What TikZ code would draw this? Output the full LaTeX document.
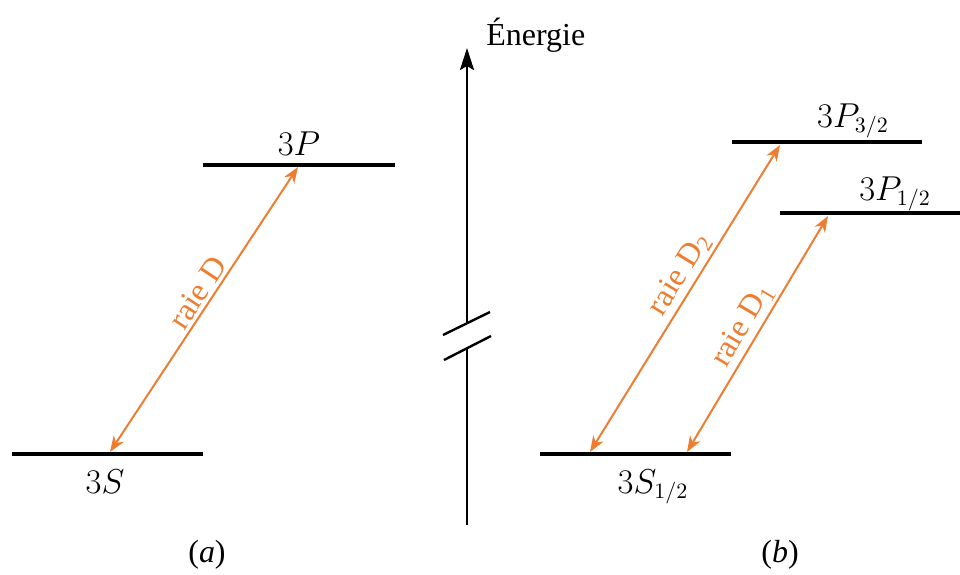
\documentclass[tikz,border=0pt]{standalone}
\usepackage{fontspec}
\setmainfont{Liberation Serif}
\usetikzlibrary{arrows.meta}
\definecolor{raie}{RGB}{237,125,49}
\begin{document}
\begin{tikzpicture}[x=0.5pt,y=-0.5pt,
  level/.style={line width=2pt},
  trans/.style={draw=raie,line width=1pt,{Stealth[length=8pt,width=6pt,inset=2.5pt]}-{Stealth[length=8pt,width=6pt,inset=2.5pt]}},
  lab/.style={font=\fontsize{16}{19}\selectfont,inner sep=0pt},
  rlab/.style={text=raie,font=\fontsize{16}{19}\selectfont,sloped,above=1.5pt,inner sep=0pt}]
\useasboundingbox (0,0) rectangle (960,574);
% energy axis
\coordinate (axb) at (467,525);
\coordinate (axg1) at (467,348);
\coordinate (axg2) at (467,323);
\coordinate (axt) at (467,48);
\draw[line width=1.2pt] (axb) -- (axg1);
\draw[line width=1.2pt,-{Stealth[length=11pt,width=7pt,inset=2pt]}] (axg2) -- (axt);
\coordinate (s1a) at (443,335); \coordinate (s1b) at (490,312);
\coordinate (s2a) at (444,360); \coordinate (s2b) at (491,336);
\draw[line width=1.2pt] (s1a) -- (s1b);
\draw[line width=1.2pt] (s2a) -- (s2b);
\node[lab,anchor=west] (en) at (486,35) {Énergie};
% (a)
\coordinate (p0) at (203,165); \coordinate (p1) at (395,165);
\coordinate (s0) at (12,454); \coordinate (s1) at (203,454);
\draw[level] (p0) -- (p1);
\draw[level] (s0) -- (s1);
\node[lab] (lP) at (299,144) {$3P$};
\node[lab] (lS) at (105,482) {$3S$};
\coordinate (dA) at (110,452); \coordinate (dB) at (298,167);
\draw[trans] (dA) -- node[rlab,pos=0.53] (lD) {raie D} (dB);
\node[lab] (la) at (207,555) {(\textit{a})};
% (b)
\coordinate (q0) at (732,142); \coordinate (q1) at (922,142);
\coordinate (r0) at (780,213); \coordinate (r1) at (960,213);
\coordinate (t0) at (540,454); \coordinate (t1) at (731,454);
\draw[level] (q0) -- (q1);
\draw[level] (r0) -- (r1);
\draw[level] (t0) -- (t1);
\node[lab] (lP32) at (853,121) {$3P_{3/2}$};
\node[lab] (lP12) at (895,194) {$3P_{1/2}$};
\node[lab] (lS12) at (653,487) {$3S_{1/2}$};
\coordinate (d2A) at (590,452); \coordinate (d2B) at (780,145);
\coordinate (d1A) at (687,452); \coordinate (d1B) at (828,216);
\draw[trans] (d2A) -- node[rlab,pos=0.55] (lD2) {raie D\textsubscript{2}} (d2B);
\draw[trans] (d1A) -- node[rlab,pos=0.5] (lD1) {raie D\textsubscript{1}} (d1B);
\node[lab] (lb) at (780,555) {(\textit{b})};
\end{tikzpicture}
\end{document}
